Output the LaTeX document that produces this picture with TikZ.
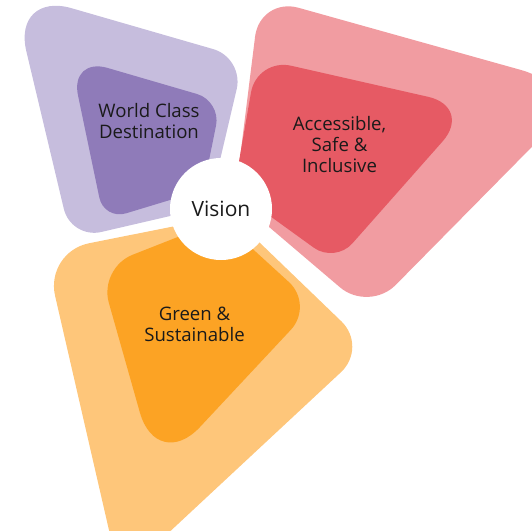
\documentclass[tikz,border=0pt]{standalone}
\usepackage{fontspec}
\setmainfont{Open Sans}
\definecolor{purpleout}{HTML}{C6BDDD}
\definecolor{purplein}{HTML}{8F7BB9}
\definecolor{redout}{HTML}{F19CA1}
\definecolor{redin}{HTML}{E65A64}
\definecolor{orangeout}{HTML}{FEC67A}
\definecolor{orangein}{HTML}{FCA324}
\definecolor{txt}{HTML}{1A1A1A}
\begin{document}
\begin{tikzpicture}[x=1pt,y=-1pt,
  lbl/.style={text=txt,align=center,font=\fontsize{18.6}{21}\selectfont,inner sep=0pt},
  hub/.style={circle,fill=white,minimum size=102pt,inner sep=0pt,text=txt,font=\fontsize{21}{24}\selectfont}]
\useasboundingbox (0,0) rectangle (532,530);
\clip (0,0) rectangle (532,530);
% purple petal
\fill[purpleout] (209,207) [rounded corners=31pt] -- (71,239) [rounded corners=62pt] -- (12,-9) [rounded corners=32pt] -- (244,58) [rounded corners=10pt] -- cycle;
\fill[purplein] (203,190) [rounded corners=23pt] -- (104,220) [rounded corners=39pt] -- (70,57) [rounded corners=25pt] -- (221,101) [rounded corners=10pt] -- cycle;
% red petal
\fill[redout] (235,198) [rounded corners=40pt] -- (260,-3) [rounded corners=70pt] -- (589,89) [rounded corners=38pt] -- (369,312) [rounded corners=10pt] -- cycle;
\fill[redin] (234,190) [rounded corners=35pt] -- (257,58) [rounded corners=46pt] -- (473,107) [rounded corners=26pt] -- (335,263) [rounded corners=10pt] -- cycle;
% orange petal
\fill[orangeout] (231,215) [rounded corners=45pt] -- (45,252) [rounded corners=40pt] -- (120,578) [rounded corners=37pt] -- (368,347) [rounded corners=10pt] -- cycle;
\fill[orangein] (221,220) [rounded corners=36pt] -- (99,268) [rounded corners=63pt] -- (157,473) [rounded corners=34pt] -- (314,305) [rounded corners=10pt] -- cycle;
% labels
\node[lbl] (world) at (149,121) {World Class\\Destination};
\node[lbl] (access) at (339.5,145) {Accessible,\\Safe \&\\Inclusive};
\node[lbl] (green) at (194.5,324.6) {Green \&\\Sustainable};
\node[hub] (vision) at (221,209) {Vision};
\end{tikzpicture}
\end{document}
